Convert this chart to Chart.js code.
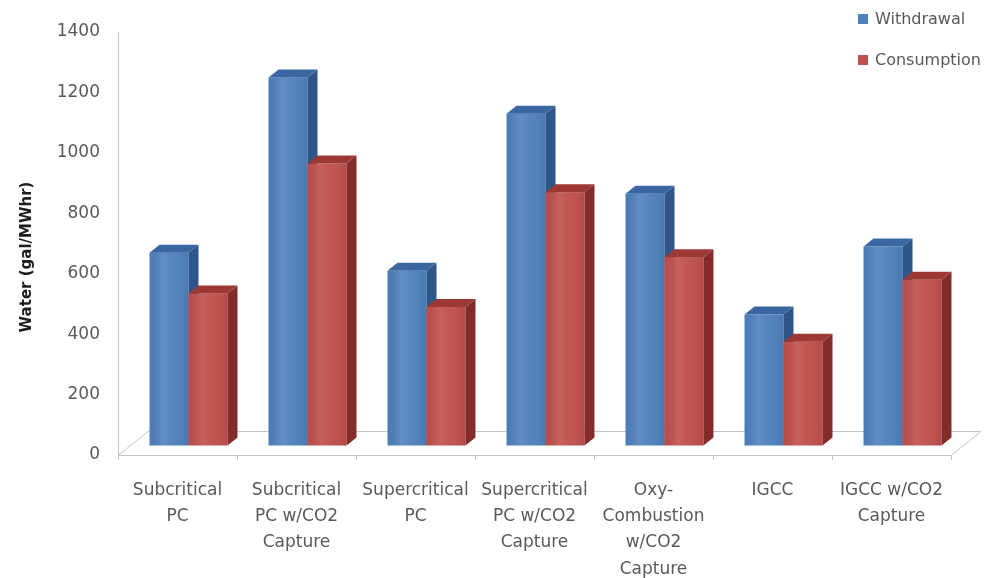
<!DOCTYPE html>
<html>
<head>
<meta charset="utf-8">
<script src="https://cdn.jsdelivr.net/npm/chart.js@4/dist/chart.umd.min.js"></script>
<style>
html,body{margin:0;padding:0;background:#fff;}
canvas{display:block;}
</style>
</head>
<body>
<canvas id="c" width="997" height="578"></canvas>
<script>
// Water use per technology (gal/MWhr)
const categories = [
  ["Subcritical", "PC"],
  ["Subcritical", "PC w/CO2", "Capture"],
  ["Supercritical", "PC"],
  ["Supercritical", "PC w/CO2", "Capture"],
  ["Oxy-", "Combustion", "w/CO2", "Capture"],
  ["IGCC"],
  ["IGCC w/CO2", "Capture"]
];
const withdrawal  = [640, 1220, 580, 1100, 835, 435, 660];
const consumption = [505,  935, 460,  840, 625, 345, 550];
const seriesNames = ["Withdrawal", "Consumption"];
const yMin = 0, yMax = 1400, yStep = 200;
const yTitle = "Water (gal/MWhr)";

const FONT = "'DejaVu Sans', Verdana, sans-serif";
const TEXT_GREY = '#595959';
const AXIS_GREY = '#c4c4c4';

// oblique projection of the floor and bars
const FLOOR_DEPTH = { x: 30, y: 24 };
const BAR_SHIFT   = { x: 11, y: 9 };
const BAR_DEPTH   = { x: 10, y: 8 };

const palette = [
  { front: '#4F81BD', side: '#2E5689', top: '#3A67A2' },
  { front: '#C0504D', side: '#832C2A', top: '#9C3936' }
];

function drawBox(ctx, el, pal) {
  const { x, y, base, width } = el.getProps(['x', 'y', 'base', 'width'], true);
  const l = x - width / 2, r = x + width / 2;
  const dx = BAR_DEPTH.x, dy = BAR_DEPTH.y;
  // front face with a soft sheen
  ctx.fillStyle = pal.front;
  ctx.fillRect(l, y, width, base - y);
  const g = ctx.createLinearGradient(l, 0, r, 0);
  g.addColorStop(0, 'rgba(0,0,0,0.04)');
  g.addColorStop(0.35, 'rgba(255,255,255,0.10)');
  g.addColorStop(0.6, 'rgba(255,255,255,0.03)');
  g.addColorStop(1, 'rgba(0,0,0,0.07)');
  ctx.fillStyle = g;
  ctx.fillRect(l, y, width, base - y);
  // right side face
  ctx.fillStyle = pal.side;
  ctx.beginPath();
  ctx.moveTo(r, y);
  ctx.lineTo(r + dx, y - dy);
  ctx.lineTo(r + dx, base - dy);
  ctx.lineTo(r, base);
  ctx.closePath();
  ctx.fill();
  // top face
  ctx.fillStyle = pal.top;
  ctx.beginPath();
  ctx.moveTo(l, y);
  ctx.lineTo(l + dx, y - dy);
  ctx.lineTo(r + dx, y - dy);
  ctx.lineTo(r, y);
  ctx.closePath();
  ctx.fill();
}

const bars3d = {
  id: 'bars3d',
  beforeDatasetsDraw(chart) {
    const { ctx, chartArea: a } = chart;
    ctx.save();
    ctx.strokeStyle = AXIS_GREY;
    ctx.lineWidth = 1;
    ctx.beginPath();
    ctx.moveTo(a.left, a.bottom + 0.5);
    ctx.lineTo(a.left + FLOOR_DEPTH.x, a.bottom - FLOOR_DEPTH.y + 0.5);
    ctx.lineTo(a.right + FLOOR_DEPTH.x, a.bottom - FLOOR_DEPTH.y + 0.5);
    ctx.lineTo(a.right, a.bottom + 0.5);
    ctx.stroke();
    ctx.restore();
  },
  afterDatasetsDraw(chart) {
    const ctx = chart.ctx;
    ctx.save();
    // bars stand part-way back on the floor
    ctx.translate(BAR_SHIFT.x, -BAR_SHIFT.y);
    const n = chart.data.labels.length;
    for (let i = 0; i < n; i++) {
      chart.data.datasets.forEach((ds, d) => {
        const el = chart.getDatasetMeta(d).data[i];
        if (el) drawBox(ctx, el, palette[d]);
      });
    }
    ctx.restore();
  },
  afterDraw(chart) {
    const ctx = chart.ctx;
    ctx.save();
    // value axis title
    ctx.translate(27, 257);
    ctx.rotate(-Math.PI / 2);
    ctx.font = `bold 15px ${FONT}`;
    ctx.fillStyle = '#1e1e1e';
    ctx.textAlign = 'center';
    ctx.textBaseline = 'middle';
    ctx.fillText(yTitle, 0, 0);
    ctx.restore();

    // legend
    ctx.save();
    ctx.font = `16px ${FONT}`;
    ctx.textBaseline = 'middle';
    ctx.textAlign = 'left';
    chart.data.datasets.forEach((ds, i) => {
      const cy = 19 + i * 41;
      ctx.fillStyle = palette[i].front;
      ctx.fillRect(858, cy - 5, 10, 10);
      ctx.fillStyle = TEXT_GREY;
      ctx.fillText(ds.label, 875, cy + 1);
    });
    ctx.restore();
  }
};

new Chart(document.getElementById('c'), {
  type: 'bar',
  data: {
    labels: categories,
    datasets: [
      { label: seriesNames[0], data: withdrawal, backgroundColor: 'rgba(0,0,0,0)' },
      { label: seriesNames[1], data: consumption, backgroundColor: 'rgba(0,0,0,0)' }
    ]
  },
  options: {
    responsive: false,
    devicePixelRatio: 1,
    animation: false,
    events: [],
    layout: { padding: { top: 32, right: 46, bottom: 0, left: 0 } },
    datasets: { bar: { categoryPercentage: 0.655, barPercentage: 1.0, borderWidth: 0 } },
    plugins: { legend: { display: false }, tooltip: { enabled: false } },
    scales: {
      x: {
        grid: { offset: true, drawOnChartArea: false, drawTicks: true, tickLength: 5, color: AXIS_GREY },
        border: { color: AXIS_GREY },
        ticks: {
          autoSkip: false, maxRotation: 0, padding: 17,
          color: TEXT_GREY, font: { family: FONT, size: 17, lineHeight: 1.55 }
        },
        afterFit(scale) { scale.height = 123; }
      },
      y: {
        min: yMin, max: yMax,
        grid: { drawOnChartArea: false, drawTicks: false },
        border: { color: AXIS_GREY },
        ticks: {
          stepSize: yStep, padding: 18,
          color: TEXT_GREY, font: { family: FONT, size: 17 },
          callback: v => String(v)
        },
        afterFit(scale) { scale.width = 118; }
      }
    }
  },
  plugins: [bars3d]
});
</script>
</body>
</html>
